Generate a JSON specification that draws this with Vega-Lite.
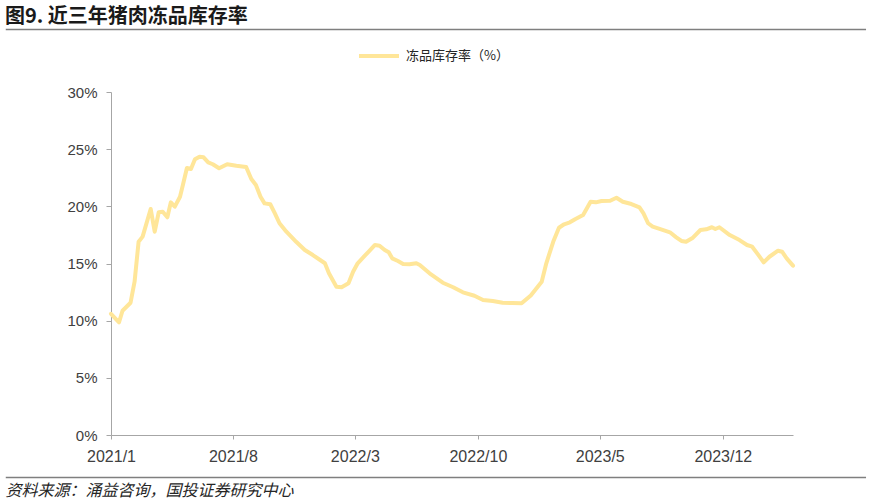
{
  "$schema": "https://vega.github.io/schema/vega-lite/v6.json",
  "autosize": {"type": "none"},
  "width": 682,
  "height": 343,
  "padding": {"left": 111, "top": 92, "right": 78, "bottom": 69},
  "background": "white",
  "config": {
    "view": {"stroke": null},
    "font": "Noto Sans CJK SC"
  },
  "title": {
    "text": "图9. 近三年猪肉冻品库存率",
    "anchor": "start",
    "frame": "group",
    "dx": -106,
    "dy": 17,
    "offset": 19,
    "font": "Noto Sans CJK SC",
    "fontSize": 20,
    "fontWeight": "bold",
    "color": "#1a1a1a"
  },
  "datasets": {
    "series": [
      {"date": "2021-01-01", "rate": 10.6},
      {"date": "2021-01-15", "rate": 9.86},
      {"date": "2021-01-21", "rate": 10.87},
      {"date": "2021-02-04", "rate": 11.57},
      {"date": "2021-02-11", "rate": 13.41},
      {"date": "2021-02-18", "rate": 16.9},
      {"date": "2021-02-25", "rate": 17.35},
      {"date": "2021-03-11", "rate": 19.77},
      {"date": "2021-03-18", "rate": 17.78},
      {"date": "2021-03-25", "rate": 19.48},
      {"date": "2021-04-01", "rate": 19.53},
      {"date": "2021-04-09", "rate": 19.04},
      {"date": "2021-04-15", "rate": 20.35},
      {"date": "2021-04-22", "rate": 19.97},
      {"date": "2021-05-01", "rate": 20.84},
      {"date": "2021-05-06", "rate": 21.87},
      {"date": "2021-05-13", "rate": 23.35},
      {"date": "2021-05-20", "rate": 23.26},
      {"date": "2021-05-27", "rate": 24.11},
      {"date": "2021-06-04", "rate": 24.34},
      {"date": "2021-06-11", "rate": 24.29},
      {"date": "2021-06-19", "rate": 23.85},
      {"date": "2021-06-27", "rate": 23.68},
      {"date": "2021-07-08", "rate": 23.33},
      {"date": "2021-07-22", "rate": 23.68},
      {"date": "2021-08-07", "rate": 23.55},
      {"date": "2021-08-24", "rate": 23.44},
      {"date": "2021-09-02", "rate": 22.39},
      {"date": "2021-09-10", "rate": 21.87},
      {"date": "2021-09-18", "rate": 20.84},
      {"date": "2021-09-25", "rate": 20.26},
      {"date": "2021-10-05", "rate": 20.18},
      {"date": "2021-10-13", "rate": 19.39},
      {"date": "2021-10-21", "rate": 18.52},
      {"date": "2021-11-02", "rate": 17.78},
      {"date": "2021-11-19", "rate": 16.9},
      {"date": "2021-12-04", "rate": 16.18},
      {"date": "2021-12-18", "rate": 15.74},
      {"date": "2022-01-08", "rate": 15.02},
      {"date": "2022-01-15", "rate": 14.14},
      {"date": "2022-01-28", "rate": 12.97},
      {"date": "2022-02-06", "rate": 12.92},
      {"date": "2022-02-18", "rate": 13.27},
      {"date": "2022-02-26", "rate": 14.28},
      {"date": "2022-03-06", "rate": 15.02},
      {"date": "2022-03-18", "rate": 15.66},
      {"date": "2022-03-26", "rate": 16.09},
      {"date": "2022-04-05", "rate": 16.62},
      {"date": "2022-04-13", "rate": 16.56},
      {"date": "2022-04-22", "rate": 16.18},
      {"date": "2022-04-29", "rate": 15.98},
      {"date": "2022-05-05", "rate": 15.45},
      {"date": "2022-05-15", "rate": 15.22},
      {"date": "2022-05-24", "rate": 14.96},
      {"date": "2022-06-04", "rate": 14.93},
      {"date": "2022-06-16", "rate": 15.02},
      {"date": "2022-06-22", "rate": 14.87},
      {"date": "2022-07-09", "rate": 14.14},
      {"date": "2022-08-01", "rate": 13.32},
      {"date": "2022-08-19", "rate": 12.92},
      {"date": "2022-09-05", "rate": 12.48},
      {"date": "2022-09-25", "rate": 12.18},
      {"date": "2022-10-10", "rate": 11.81},
      {"date": "2022-10-27", "rate": 11.72},
      {"date": "2022-11-13", "rate": 11.57},
      {"date": "2022-11-30", "rate": 11.54},
      {"date": "2022-12-16", "rate": 11.52},
      {"date": "2023-01-01", "rate": 12.2},
      {"date": "2023-01-20", "rate": 13.41},
      {"date": "2023-01-28", "rate": 15.02},
      {"date": "2023-02-09", "rate": 16.9},
      {"date": "2023-02-19", "rate": 18.13},
      {"date": "2023-02-28", "rate": 18.43},
      {"date": "2023-03-10", "rate": 18.6},
      {"date": "2023-03-19", "rate": 18.87},
      {"date": "2023-04-02", "rate": 19.24},
      {"date": "2023-04-15", "rate": 20.4},
      {"date": "2023-04-24", "rate": 20.35},
      {"date": "2023-05-04", "rate": 20.47},
      {"date": "2023-05-19", "rate": 20.49},
      {"date": "2023-05-30", "rate": 20.75},
      {"date": "2023-06-10", "rate": 20.4},
      {"date": "2023-06-25", "rate": 20.2},
      {"date": "2023-07-09", "rate": 19.91},
      {"date": "2023-07-16", "rate": 19.39},
      {"date": "2023-07-24", "rate": 18.52},
      {"date": "2023-08-01", "rate": 18.22},
      {"date": "2023-08-13", "rate": 18.02},
      {"date": "2023-08-31", "rate": 17.73},
      {"date": "2023-09-11", "rate": 17.29},
      {"date": "2023-09-20", "rate": 16.97},
      {"date": "2023-09-28", "rate": 16.9},
      {"date": "2023-10-10", "rate": 17.26},
      {"date": "2023-10-23", "rate": 17.93},
      {"date": "2023-11-02", "rate": 17.99},
      {"date": "2023-11-12", "rate": 18.17},
      {"date": "2023-11-18", "rate": 18.02},
      {"date": "2023-11-25", "rate": 18.17},
      {"date": "2023-12-13", "rate": 17.49},
      {"date": "2023-12-30", "rate": 17.05},
      {"date": "2024-01-12", "rate": 16.62},
      {"date": "2024-01-21", "rate": 16.47},
      {"date": "2024-01-31", "rate": 15.8},
      {"date": "2024-02-10", "rate": 15.1},
      {"date": "2024-02-20", "rate": 15.59},
      {"date": "2024-03-06", "rate": 16.12},
      {"date": "2024-03-13", "rate": 16.03},
      {"date": "2024-03-21", "rate": 15.45},
      {"date": "2024-04-01", "rate": 14.81}
    ]
  },
  "layer": [
    {
      "data": {"name": "series"},
      "mark": {"type": "line", "strokeWidth": 4, "strokeJoin": "round", "strokeCap": "round"},
      "encoding": {
        "x": {
          "field": "date",
          "type": "temporal",
          "scale": {"domain": [{"year": 2021, "month": 1, "date": 1}, {"year": 2024, "month": 4, "date": 1}], "nice": false},
          "axis": {
            "values": [
              {"year": 2021, "month": 1, "date": 1},
              {"year": 2021, "month": 8, "date": 1},
              {"year": 2022, "month": 3, "date": 1},
              {"year": 2022, "month": 10, "date": 1},
              {"year": 2023, "month": 5, "date": 1},
              {"year": 2023, "month": 12, "date": 1}
            ],
            "format": "%Y/%-m",
            "grid": false,
            "domainColor": "#a6a6a6",
            "domainWidth": 1,
            "tickColor": "#a6a6a6",
            "tickSize": 4,
            "labelFont": "Liberation Sans",
            "labelFontSize": 16,
            "labelColor": "#404040",
            "labelPadding": 9,
            "labelFlush": false,
            "labelOverlap": false,
            "title": "资料来源：涌益咨询，国投证券研究中心",
            "titleX": -106,
            "titleY": 55,
            "titleAlign": "left",
            "titleAnchor": "start",
            "titleBaseline": "middle",
            "titleFont": "Noto Sans CJK SC",
            "titleFontSize": 16,
            "titleFontWeight": "normal",
            "titleFontStyle": "italic",
            "titleColor": "#262626"
          }
        },
        "y": {
          "field": "rate",
          "type": "quantitative",
          "scale": {"domain": [0, 30], "nice": false},
          "axis": {
            "values": [0, 5, 10, 15, 20, 25, 30],
            "labelExpr": "datum.value + '%'",
            "grid": false,
            "title": null,
            "domainColor": "#a6a6a6",
            "tickColor": "#a6a6a6",
            "tickSize": 5,
            "labelFont": "Liberation Sans",
            "labelFontSize": 15,
            "labelColor": "#404040",
            "labelPadding": 9
          }
        },
        "color": {
          "datum": "冻品库存率（%）",
          "type": "nominal",
          "scale": {"range": ["#FFE699"]},
          "legend": {
            "title": null,
            "orient": "none",
            "legendX": 246,
            "legendY": -58,
            "symbolType": "stroke",
            "symbolSize": 1600,
            "symbolStrokeWidth": 4,
            "labelFont": "Noto Sans CJK SC",
            "labelFontSize": 13,
            "labelColor": "#262626",
            "labelOffset": 5
          }
        }
      }
    },
    {
      "data": {"values": [{}]},
      "mark": {"type": "rule", "stroke": "#7f7f7f", "strokeWidth": 1.5, "clip": false},
      "encoding": {
        "x": {"datum": {"year": 2020, "month": 7, "date": 2}, "type": "temporal"},
        "x2": {"datum": {"year": 2024, "month": 8, "date": 6}},
        "y": {"datum": 35.47, "type": "quantitative"}
      }
    },
    {
      "data": {"values": [{}]},
      "mark": {"type": "rule", "stroke": "#7f7f7f", "strokeWidth": 1.5, "clip": false},
      "encoding": {
        "x": {"datum": {"year": 2020, "month": 7, "date": 2}, "type": "temporal"},
        "x2": {"datum": {"year": 2024, "month": 8, "date": 6}},
        "y": {"datum": -3.72, "type": "quantitative"}
      }
    }
  ]
}
